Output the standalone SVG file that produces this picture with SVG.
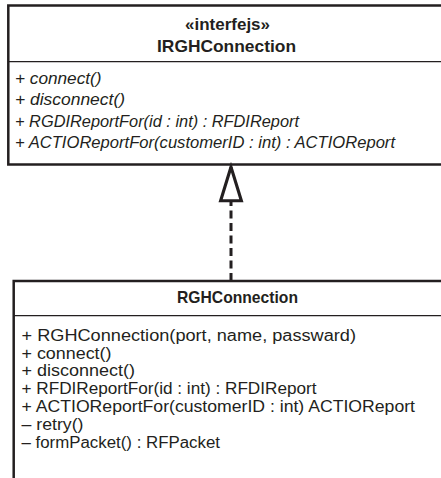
<svg xmlns="http://www.w3.org/2000/svg" width="441" height="478" viewBox="0 0 441 478">
  <defs>
    <style>
      .box { fill: #ffffff; stroke: #231f20; stroke-width: 2.5; }
      .div { stroke: #231f20; stroke-width: 1.3; fill: none; }
      .hdr { font-family: "Liberation Sans", Arial, sans-serif; font-weight: bold; font-size: 17px; fill: #231f20; text-anchor: middle; }
      .it { font-family: "Liberation Sans", Arial, sans-serif; font-style: italic; font-size: 17px; fill: #231f20; }
      .op { font-family: "Liberation Sans", Arial, sans-serif; font-size: 16px; fill: #231f20; }
      .conn { stroke: #231f20; stroke-width: 3; stroke-dasharray: 8 4.5; fill: none; }
    </style>
    <marker id="realize" markerUnits="userSpaceOnUse" orient="auto" refX="0" refY="0" markerWidth="40" markerHeight="40" viewBox="-30 -12 32 24" overflow="visible">
      <path d="M0,0 L-27,-8.3 L-27,8.3 Z" fill="#ffffff" stroke="#231f20" stroke-width="2.5" stroke-linejoin="miter"/>
    </marker>
  </defs>
  <rect x="0" y="0" width="441" height="478" fill="#ffffff"/>

  <g id="IRGHConnection">
    <rect class="box" x="8.3" y="5.5" width="460" height="159"/>
    <line class="div" x1="8.3" y1="61.7" x2="441" y2="61.7"/>
    <text class="hdr" x="227.5" y="30" textLength="85" lengthAdjust="spacingAndGlyphs">«interfejs»</text>
    <text class="hdr" x="226.5" y="51.7" textLength="139" lengthAdjust="spacingAndGlyphs">IRGHConnection</text>
    <text class="it" x="15" y="83.5" textLength="86.5" lengthAdjust="spacingAndGlyphs">+ connect()</text>
    <text class="it" x="15" y="105" textLength="110" lengthAdjust="spacingAndGlyphs">+ disconnect()</text>
    <text class="it" x="15" y="126.5" textLength="284" lengthAdjust="spacingAndGlyphs">+ RGDIReportFor(id : int) : RFDIReport</text>
    <text class="it" x="15" y="148" textLength="380" lengthAdjust="spacingAndGlyphs">+ ACTIOReportFor(customerID : int) : ACTIOReport</text>
  </g>

  <g id="connectors">
    <line class="conn" x1="231" y1="281" x2="231" y2="167" marker-end="url(#realize)"/>
  </g>

  <g id="RGHConnection">
    <rect class="box" x="13.7" y="281" width="460" height="220"/>
    <line class="div" x1="13.7" y1="315.7" x2="441" y2="315.7"/>
    <text class="hdr" x="237.5" y="303" textLength="121" lengthAdjust="spacingAndGlyphs">RGHConnection</text>
    <text class="op" x="21.5" y="340.7" textLength="334.5" lengthAdjust="spacingAndGlyphs">+ RGHConnection(port, name, passward)</text>
    <text class="op" x="21.5" y="358.5" textLength="90" lengthAdjust="spacingAndGlyphs">+ connect()</text>
    <text class="op" x="21.5" y="376.3" textLength="113.5" lengthAdjust="spacingAndGlyphs">+ disconnect()</text>
    <text class="op" x="21.5" y="394.1" textLength="295" lengthAdjust="spacingAndGlyphs">+ RFDIReportFor(id : int) : RFDIReport</text>
    <text class="op" x="21.5" y="411.9" textLength="393.5" lengthAdjust="spacingAndGlyphs">+ ACTIOReportFor(customerID : int) ACTIOReport</text>
    <text class="op" x="21.5" y="429.7" textLength="62" lengthAdjust="spacingAndGlyphs">– retry()</text>
    <text class="op" x="21.5" y="447.5" textLength="198.5" lengthAdjust="spacingAndGlyphs">– formPacket() : RFPacket</text>
  </g>
</svg>
